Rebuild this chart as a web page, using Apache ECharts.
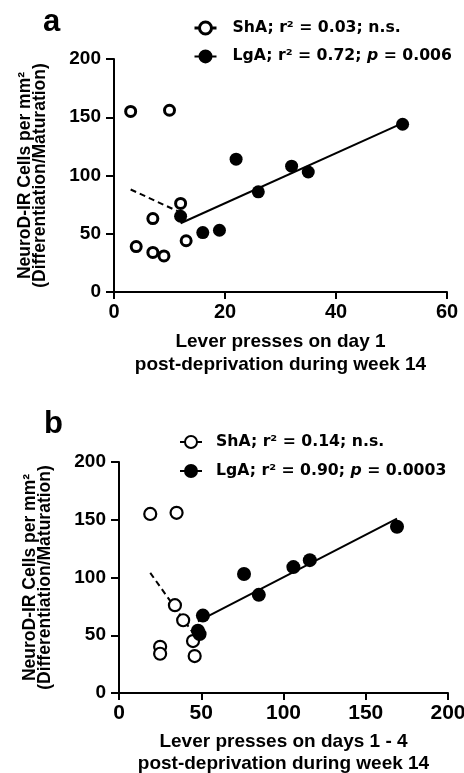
<!DOCTYPE html>
<html><head><meta charset="utf-8">
<script src="https://cdn.jsdelivr.net/npm/echarts@6/dist/echarts.min.js"></script>
<style>html,body{margin:0;padding:0;background:#fff}#c{width:464px;height:773px}</style>
</head><body><div id="c"></div>
<script>
// Panel a: lever presses on day 1
const aShaX = [3, 10, 12, 7, 4, 7, 9, 13];
const aShaY = [155, 156, 76, 63, 39, 34, 31, 44];
const aLgaX = [12, 16, 19, 22, 26, 32, 35, 52];
const aLgaY = [65, 51, 53, 114, 86, 108, 103, 144];
const aShaFitX = [3, 13];
const aShaFitY = [88, 66];
const aLgaFitX = [12, 52];
const aLgaFitY = [59, 145];
// Panel b: lever presses on days 1-4
const bShaX = [19, 35, 34, 39, 25, 25, 45, 46];
const bShaY = [155, 156, 76, 63, 40, 34, 45, 32];
const bLgaX = [51, 48, 49, 76, 85, 106, 116, 169];
const bLgaY = [67, 54, 51, 103, 85, 109, 115, 144];
const bShaFitX = [19, 46];
const bShaFitY = [104, 50];
const bLgaFitX = [48, 169];
const bLgaFitY = [62, 151];
// labels
const legendA = ['ShA; r² = 0.03; n.s.', 'LgA; r² = 0.72; p = 0.006'];
const legendB = ['ShA; r² = 0.14; n.s.', 'LgA; r² = 0.90; p = 0.0003'];
const yName = 'NeuroD-IR Cells per mm²\n(Differentiation/Maturation)';
const xNameA = 'Lever presses on day 1\npost-deprivation during week 14';
const xNameB = 'Lever presses on days 1 - 4\npost-deprivation during week 14';
const panelLetters = ['a', 'b'];

const zip = (xs, ys) => xs.map((x, i) => [x, ys[i]]);
const F = 'Liberation Sans, Arial, sans-serif';
const LF = 'DejaVu Sans, sans-serif';

function xAxis(grid, max, interval, name, lh, fs) {
  return {
    gridIndex: grid, type: 'value', min: 0, max: max, interval: interval,
    name: name, nameLocation: 'middle', nameGap: 38,
    nameTextStyle: {fontFamily: F, fontWeight: 'bold', fontSize: 19, lineHeight: lh, color: '#000'},
    axisLine: {show: true, onZero: false, lineStyle: {color: '#000', width: 2}},
    axisTick: {show: true, length: 7, lineStyle: {color: '#000', width: 2}},
    axisLabel: {margin: 10, fontFamily: F, fontWeight: 'bold', fontSize: fs, color: '#000'},
    splitLine: {show: false}
  };
}
function yAxis(grid) {
  return {
    gridIndex: grid, type: 'value', min: 0, max: 200, interval: 50,
    name: yName, nameLocation: 'middle', nameRotate: 90, nameGap: 66,
    nameTextStyle: {fontFamily: F, fontWeight: 'bold', fontSize: 17.5, lineHeight: 15, color: '#000'},
    axisLine: {show: true, onZero: false, lineStyle: {color: '#000', width: 2}},
    axisTick: {show: true, length: 8, lineStyle: {color: '#000', width: 2}},
    axisLabel: {margin: 13, fontFamily: F, fontWeight: 'bold', fontSize: 19, color: '#000'},
    splitLine: {show: false}
  };
}
function fitLine(xi, xs, ys, dashed) {
  return {
    type: 'line', xAxisIndex: xi, yAxisIndex: xi, data: zip(xs, ys), symbol: 'none', silent: true,
    lineStyle: {color: '#000', width: 2, type: dashed ? [6, 4] : 'solid'}, z: 2
  };
}
function pts(xi, name, xs, ys, open, size, bw) {
  return {
    type: 'scatter', name: name, xAxisIndex: xi, yAxisIndex: xi, data: zip(xs, ys),
    symbol: 'circle', symbolSize: size, silent: true,
    itemStyle: open ? {color: '#fff', borderColor: '#000', borderWidth: bw, opacity: 1}
                    : {color: '#000', borderColor: '#000', borderWidth: 0, opacity: 1},
    z: 3
  };
}
const iconPath = 'path://M0,6H5M17,6H22M17,6A6,6,0,1,1,5,6A6,6,0,1,1,17,6Z';
function legend(names, left, top, gap, padL, bw) {
  return {
    data: [
      {name: names[0], icon: iconPath, itemStyle: {color: '#fff', borderColor: '#000', borderWidth: bw}},
      {name: names[1], icon: iconPath, itemStyle: {color: '#000', borderColor: '#000', borderWidth: 2}}
    ],
    orient: 'vertical', left: left, top: top, padding: 0, itemGap: gap,
    itemWidth: 22, itemHeight: 12, selectedMode: false,
    formatter: function (n) {
      const k = n.indexOf('; p =');
      if (k < 0) return '{t|' + n + '}';
      return '{t|' + n.slice(0, k + 2) + '}{i|p}{u|' + n.slice(k + 3) + '}';
    },
    textStyle: {
      color: '#000', fontFamily: LF, fontWeight: 'bold', fontSize: 15.7, lineHeight: 20,
      rich: {
        t: {fontFamily: LF, fontWeight: 'bold', fontSize: 15.7, color: '#000', padding: [0, 0, 0, padL]},
        i: {fontFamily: LF, fontWeight: 'bold', fontStyle: 'italic', fontSize: 15.7, color: '#000'},
        u: {fontFamily: LF, fontWeight: 'bold', fontSize: 15.7, color: '#000'}
      }
    }
  };
}

const chart = echarts.init(document.getElementById('c'), null, {renderer: 'canvas'});
chart.setOption({
  backgroundColor: '#fff',
  animation: false,
  title: [
    {text: panelLetters[0], left: 43, top: 7, padding: 0, textStyle: {fontFamily: F, fontWeight: 'bold', fontSize: 31, color: '#000'}},
    {text: panelLetters[1], left: 44, top: 409, padding: 0, textStyle: {fontFamily: F, fontWeight: 'bold', fontSize: 31, color: '#000'}}
  ],
  legend: [
    legend(legendA, 193, 18, 8.4, 11, 3),
    legend(legendB, 179, 432, 9, 9, 2)
  ],
  grid: [
    {left: 114, top: 59, width: 333, height: 233, outerBoundsMode: 'none', containLabel: false},
    {left: 119, top: 462, width: 329, height: 231, outerBoundsMode: 'none', containLabel: false}
  ],
  xAxis: [xAxis(0, 60, 20, xNameA, 23, 20), xAxis(1, 200, 50, xNameB, 22, 21)],
  yAxis: [yAxis(0), yAxis(1)],
  series: [
    fitLine(0, aShaFitX, aShaFitY, true),
    fitLine(0, aLgaFitX, aLgaFitY, false),
    pts(0, legendA[0], aShaX, aShaY, true, 10, 3),
    pts(0, legendA[1], aLgaX, aLgaY, false, 13),
    fitLine(1, bShaFitX, bShaFitY, true),
    fitLine(1, bLgaFitX, bLgaFitY, false),
    pts(1, legendB[0], bShaX, bShaY, true, 12, 2.2),
    pts(1, legendB[1], bLgaX, bLgaY, false, 14)
  ]
});
</script>
</body></html>
